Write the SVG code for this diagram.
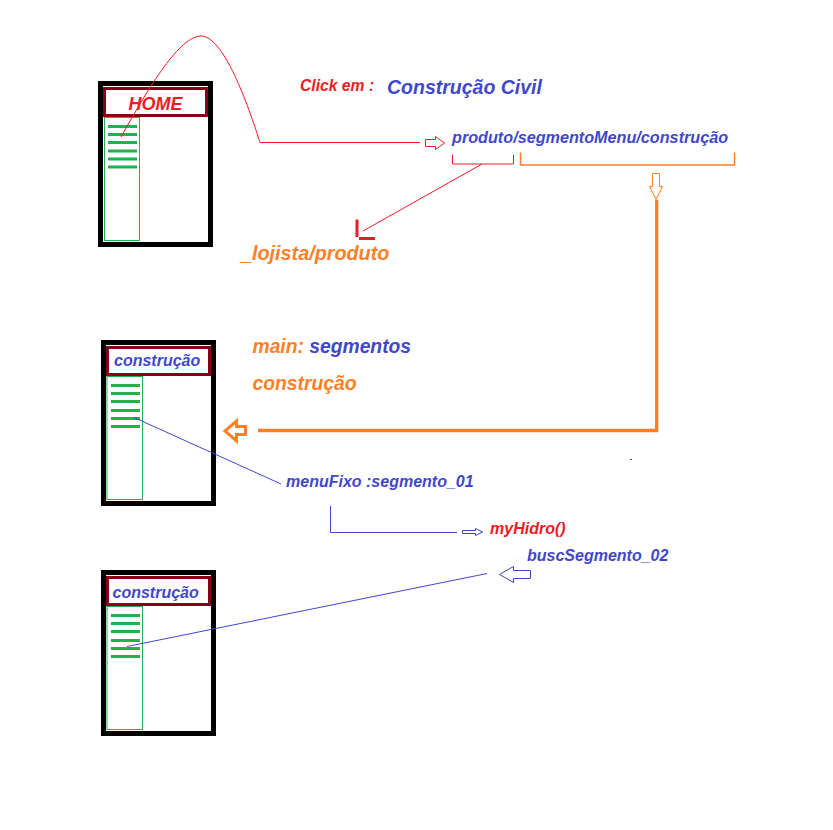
<svg xmlns="http://www.w3.org/2000/svg" width="833" height="830" viewBox="0 0 833 830">
<style>
  .t { font-family: "Liberation Sans", Arial, sans-serif; font-weight: bold; font-style: italic; }
  .red { fill: #ED1C24; }
  .blue { fill: #3F48CC; }
  .orange { fill: #FF7F27; }
  .frame { fill: #FFFFFF; stroke: #000000; stroke-width: 5; }
  .header { fill: #FFFFFF; stroke: #880015; stroke-width: 3; }
  .menu { fill: none; stroke: #22B14C; stroke-width: 1; }
  .item { stroke: #22B14C; stroke-width: 3; }
  .lr { fill: none; stroke: #ED1C24; stroke-width: 1; }
  .lb { fill: none; stroke: #3F48CC; stroke-width: 1; }
  .lo { fill: none; stroke: #FF7F27; }
</style>
<rect width="833" height="830" fill="#FFFFFF"/>

<g id="home">
  <rect class="frame" x="100.5" y="83.5" width="110" height="161"/>
  <rect class="header" x="104.5" y="88.5" width="102" height="27"/>
  <text class="t red" x="155.5" y="109.5" font-size="18" text-anchor="middle">HOME</text>
  <rect class="menu" x="104.5" y="117.5" width="35" height="123"/>
  <g class="item">
    <line x1="108" y1="126.5" x2="137" y2="126.5"/>
    <line x1="108" y1="134.5" x2="137" y2="134.5"/>
    <line x1="108" y1="142.5" x2="137" y2="142.5"/>
    <line x1="108" y1="151" x2="137" y2="151"/>
    <line x1="108" y1="159" x2="137" y2="159"/>
    <line x1="108" y1="167" x2="137" y2="167"/>
  </g>
</g>

<g id="construcao1">
  <rect class="frame" x="103.5" y="342.5" width="110" height="161"/>
  <rect class="header" x="107.5" y="347.5" width="102" height="27"/>
  <text class="t blue" x="114" y="366" font-size="16">construção</text>
  <rect class="menu" x="107" y="376.5" width="35.5" height="123"/>
  <g class="item">
    <line x1="111" y1="385.5" x2="140" y2="385.5"/>
    <line x1="111" y1="393.5" x2="140" y2="393.5"/>
    <line x1="111" y1="401.5" x2="140" y2="401.5"/>
    <line x1="111" y1="410.5" x2="140" y2="410.5"/>
    <line x1="111" y1="418.5" x2="140" y2="418.5"/>
    <line x1="111" y1="426.5" x2="140" y2="426.5"/>
  </g>
</g>

<g id="construcao2">
  <rect class="frame" x="103.5" y="572.5" width="110" height="161"/>
  <rect class="header" x="107.5" y="577.5" width="102" height="27"/>
  <text class="t blue" x="112.5" y="597.5" font-size="16">construção</text>
  <rect class="menu" x="107" y="606.5" width="35.5" height="123"/>
  <g class="item">
    <line x1="111" y1="615.5" x2="140" y2="615.5"/>
    <line x1="111" y1="623.5" x2="140" y2="623.5"/>
    <line x1="111" y1="631.5" x2="140" y2="631.5"/>
    <line x1="111" y1="640.5" x2="140" y2="640.5"/>
    <line x1="111" y1="648.5" x2="140" y2="648.5"/>
    <line x1="111" y1="656.5" x2="140" y2="656.5"/>
  </g>
</g>

<g id="labels">
  <text class="t red" x="300" y="90.5" font-size="15.7">Click em :</text>
  <text class="t blue" x="387" y="93.5" font-size="19.5">Construção Civil</text>
  <text class="t blue" x="452" y="143" font-size="16.2">produto/segmentoMenu/construção</text>
  <text class="t orange" x="241" y="260" font-size="19.8">_lojista/produto</text>
  <text class="t" x="252.5" y="353" font-size="19.3"><tspan class="orange">main: </tspan><tspan class="blue">segmentos</tspan></text>
  <text class="t orange" x="252.5" y="390" font-size="19.3">construção</text>
  <text class="t blue" x="286" y="486.5" font-size="16">menuFixo :segmento_01</text>
  <text class="t red" x="490" y="534" font-size="16">myHidro()</text>
  <text class="t blue" x="527" y="560.5" font-size="16">buscSegmento_02</text>
</g>

<g id="connectors">
  <!-- red click curve -->
  <path class="lr" d="M121,137 C150,85 180,36 201,36 C222,36 245,95 260,142.5 H420"/>
  <polygon class="lr" points="425.5,139.5 435.5,139.5 435.5,136.5 444.5,143 435.5,149.5 435.5,146.5 425.5,146.5"/>
  <!-- red bracket and pointer -->
  <path class="lr" stroke-width="1.5" d="M452.5,154.5 V164 H513.5 V154.5"/>
  <line class="lr" x1="482" y1="164" x2="363" y2="231"/>
  <rect x="355.5" y="219.5" width="3" height="17.5" fill="#ED1C24"/>
  <rect x="359" y="237" width="16" height="3" fill="#ED1C24"/>
  <!-- orange bracket and route -->
  <path class="lo" stroke-width="1.5" d="M520.5,152.5 V165 H734.5 V152.5"/>
  <polygon class="lo" stroke-width="1" points="652.5,173.5 659.5,173.5 659.5,186.5 662.5,186.5 656,199.5 649.5,186.5 652.5,186.5"/>
  <path class="lo" stroke-width="3.3" d="M656.7,200 V430.5 H258"/>
  <polygon class="lo" stroke-width="3" points="225,431 236.5,421 236.5,426.5 245.5,426.5 245.5,434.5 236.5,434.5 236.5,441"/>
  <rect x="630" y="459" width="2" height="1" fill="#3F48CC"/>
  <!-- blue connectors -->
  <line class="lb" x1="134" y1="417.5" x2="281" y2="484"/>
  <path class="lb" d="M330.5,506 V532.5 H457"/>
  <polygon class="lb" points="462.5,530.5 475.5,530.5 475.5,528.5 482.5,532 475.5,535.5 475.5,533.5 462.5,533.5"/>
  <line class="lb" x1="127" y1="646.5" x2="487" y2="573.5"/>
  <polygon class="lb" points="499.5,574.5 513.5,566.5 513.5,570.5 530.5,570.5 530.5,578.5 513.5,578.5 513.5,582.5"/>
</g>
</svg>
